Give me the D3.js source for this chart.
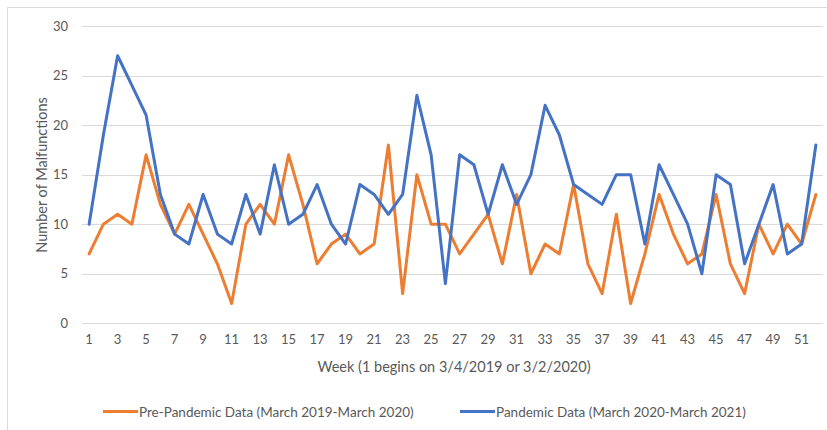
<!DOCTYPE html>
<html><head><meta charset="utf-8">
<script src="https://cdn.jsdelivr.net/npm/d3@7/dist/d3.min.js"></script>
<style>body{margin:0;background:#fff;} text{font-family:Lato,"Open Sans",sans-serif;fill:#595959;}</style>
</head><body><svg id="c" width="827" height="430"></svg>
<script>
const weeks = d3.range(1, 53);
const prePandemic = [7,10,11,10,17,12,9,12,9,6,2,10,12,10,17,12,6,8,9,7,8,18,3,15,10,10,7,9,11,6,13,5,8,7,14,6,3,11,2,7,13,9,6,7,13,6,3,10,7,10,8,13];
const pandemic = [10,19,27,24,21,13,9,8,13,9,8,13,9,16,10,11,14,10,8,14,13,11,13,23,17,4,17,16,11,16,12,15,22,19,14,13,12,15,15,8,16,13,10,5,15,14,6,10,14,7,8,18];
const yTicks = [0,5,10,15,20,25,30];
const xTickLabels = weeks.filter(w => w % 2 === 1);
const seriesNames = ["Pre-Pandemic Data (March 2019-March 2020)", "Pandemic Data (March 2020-March 2021)"];
const colors = ["#ED7D31", "#4472C4"];

const svg = d3.select("#c");
svg.append("rect").attr("x",7.5).attr("y",7.5).attr("width",840).attr("height",440)
  .attr("fill","none").attr("stroke","#d9d9d9");

const L = 82, R = 823, T = 26, B = 323.3;
const x = d3.scaleBand().domain(weeks).range([L, R]);
const y = d3.scaleLinear().domain([0, 30]).range([B, T]);
const cx = w => x(w) + x.bandwidth()/2;

// gridlines
svg.append("g").selectAll("line").data(yTicks).join("line")
  .attr("x1", L).attr("x2", R).attr("y1", d => Math.round(y(d))+0.5).attr("y2", d => Math.round(y(d))+0.5)
  .attr("stroke", "#d9d9d9").attr("stroke-width", 1);

// y axis labels
const yAxis = d3.axisLeft(y).tickValues(yTicks).tickSize(0).tickPadding(0);
const gy = svg.append("g").attr("transform", `translate(68,0)`).call(yAxis);
gy.select(".domain").remove();
gy.selectAll("text").style("font-size","13px").attr("fill","#595959");

// x axis labels
const xAxis = d3.axisBottom(x).tickValues(xTickLabels).tickSize(0).tickPadding(0);
const gx = svg.append("g").attr("transform", `translate(0,335)`).call(xAxis);
gx.select(".domain").remove();
gx.selectAll("text").style("font-size","13px").attr("fill","#595959");

// lines
const line = d3.line().x((d,i) => cx(weeks[i])).y(d => y(d));
[prePandemic, pandemic].forEach((s, k) => {
  svg.append("path").datum(s).attr("d", line).attr("fill","none")
    .attr("stroke", colors[k]).attr("stroke-width", 3).attr("stroke-linejoin","round").attr("stroke-linecap","round");
});

// axis titles
svg.append("text").attr("x", 454).attr("y", 372).attr("text-anchor","middle")
  .style("font-size","14.5px").text("Week (1 begins on 3/4/2019 or 3/2/2020)");
svg.append("text").attr("transform","translate(47,175) rotate(-90)").attr("text-anchor","middle")
  .style("font-size","14.5px").text("Number of Malfunctions");

// legend
const legX = [103, 460];
seriesNames.forEach((n, k) => {
  svg.append("line").attr("x1", legX[k]).attr("x2", legX[k]+35).attr("y1", 411.5).attr("y2", 411.5)
    .attr("stroke", colors[k]).attr("stroke-width", 3);
  svg.append("text").attr("x", legX[k]+36).attr("y", 416.5).style("font-size","13.5px").text(n);
});
</script></body></html>
